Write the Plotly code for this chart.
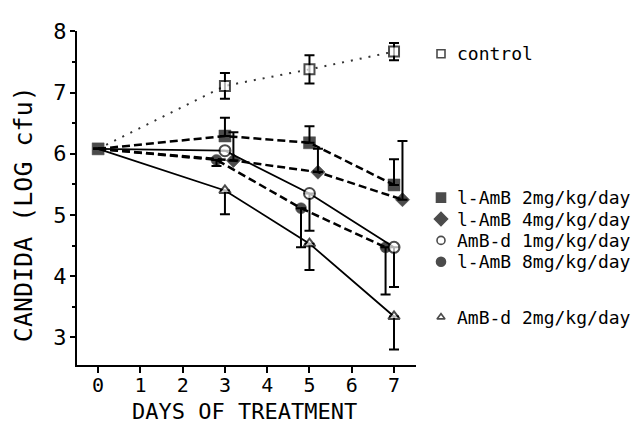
import plotly.graph_objects as go

# ---------------- data ----------------
days = [0, 3, 5, 7]
days_4mg = [0, 3.2, 5.2, 7.2]
days_8mg = [0, 2.8, 4.8, 6.8]

control = [6.08, 7.11, 7.38, 7.67]
control_err = [0, 0.21, 0.23, 0.14]

lamb2 = [6.08, 6.29, 6.18, 5.49]
lamb2_err_up = [0, 0.30, 0.27, 0.42]

lamb4 = [6.08, 5.89, 5.70, 5.25]
lamb4_err_up = [0, 0.46, 0.38, 0.96]

ambd1 = [6.08, 6.05, 5.35, 4.47]
ambd1_err_dn = [0, 0, 0.61, 0.65]

lamb8 = [6.08, 5.90, 5.11, 4.47]
lamb8_err_dn = [0, 0.10, 0.64, 0.77]

ambd2 = [6.08, 5.40, 4.53, 3.34]
ambd2_err_dn = [0, 0.39, 0.43, 0.54]

legend_labels = ["control", "l-AmB 2mg/kg/day", "l-AmB 4mg/kg/day",
                 "AmB-d 1mg/kg/day", "l-AmB 8mg/kg/day", "AmB-d 2mg/kg/day"]
x_ticks = [0, 1, 2, 3, 4, 5, 6, 7]
y_ticks = [3, 4, 5, 6, 7, 8]

# ---------------- layout constants (pixels) ----------------
W, H = 644, 426
PX0, PX1, PY0, PY1 = 77, 416, 20, 363   # plot area: left, right, top, bottom
FONT = "DejaVu Sans Mono"
legend_y_px = [43, 191, 213, 235, 257, 314]
legend_marker_x_px = 441
legend_text_x_px = 455

def sizes(xs, s, hide0=True):
    return [0 if (hide0 and x == 0) else s for x in xs]

def err(up=None, dn=None):
    n = 4
    return dict(type="data", symmetric=False,
                array=up if up is not None else [0] * n,
                arrayminus=dn if dn is not None else [0] * n,
                color="black", thickness=2, width=5)

fig = go.Figure()

DASH = "8px,4px"
BLK = dict(color="black", width=0.5)

# control (dotted)
fig.add_trace(go.Scatter(
    x=days, y=control, mode="lines+markers",
    line=dict(color="#333", width=2, dash="2px,7px"),
    marker=dict(symbol="square", size=sizes(days, 10), color="white",
                line=dict(color="black", width=2)),
    error_y=dict(type="data", symmetric=True, array=control_err,
                 color="black", thickness=2, width=5),
    showlegend=False))

# l-AmB 4mg (dashed, diamond)
fig.add_trace(go.Scatter(
    x=days_4mg, y=lamb4, mode="lines+markers",
    line=dict(color="black", width=2.5, dash=DASH),
    marker=dict(symbol="diamond", size=sizes(days_4mg, 11), color="black", line=BLK),
    error_y=err(up=lamb4_err_up),
    showlegend=False))

# l-AmB 8mg (dashed, filled circle)
fig.add_trace(go.Scatter(
    x=days_8mg, y=lamb8, mode="lines+markers",
    line=dict(color="black", width=2.5, dash=DASH),
    marker=dict(symbol="circle", size=sizes(days_8mg, 11), color="black", line=BLK),
    error_y=err(dn=lamb8_err_dn),
    showlegend=False))

# AmB-d 2mg (solid, open triangle)
fig.add_trace(go.Scatter(
    x=days, y=ambd2, mode="lines+markers",
    line=dict(color="black", width=1.8),
    marker=dict(symbol="triangle-up", size=sizes(days, 10), color="white",
                line=dict(color="black", width=2)),
    error_y=err(dn=ambd2_err_dn),
    showlegend=False))

# AmB-d 1mg (solid, open circle)
fig.add_trace(go.Scatter(
    x=days, y=ambd1, mode="lines+markers",
    line=dict(color="black", width=1.8),
    marker=dict(symbol="circle", size=sizes(days, 11), color="white",
                line=dict(color="black", width=2)),
    error_y=err(dn=ambd1_err_dn),
    showlegend=False))

# l-AmB 2mg (dashed, filled square) - drawn last so day-0 square is on top
fig.add_trace(go.Scatter(
    x=days, y=lamb2, mode="lines+markers",
    line=dict(color="black", width=2.5, dash=DASH),
    marker=dict(symbol="square", size=sizes(days, 12, hide0=False), color="black", line=BLK),
    error_y=err(up=lamb2_err_up),
    showlegend=False))

# ---------------- legend on a full-page pixel subplot ----------------
leg_symbols = ["square", "square", "diamond", "circle", "circle", "triangle-up"]
leg_fill = ["white", "black", "black", "white", "black", "white"]
leg_size = [8, 9, 10, 8, 9, 7]
fig.add_trace(go.Scatter(
    x=[legend_marker_x_px] * len(legend_labels), y=legend_y_px,
    xaxis="x2", yaxis="y2", mode="markers",
    marker=dict(symbol=leg_symbols, color=leg_fill, size=leg_size,
                line=dict(color="black", width=1.6)),
    showlegend=False, hoverinfo="skip"))

annotations = []
for lab, yy in zip(legend_labels, legend_y_px):
    annotations.append(dict(x=legend_text_x_px, y=yy, xref="x2", yref="y2",
                            text=lab, showarrow=False, xanchor="left",
                            yanchor="middle",
                            font=dict(family=FONT, size=18, color="black")))

# axis titles
annotations.append(dict(x=244, y=411, xref="x2", yref="y2",
                        text="DAYS OF TREATMENT", showarrow=False,
                        xanchor="center", yanchor="middle",
                        font=dict(family=FONT, size=22, color="black")))
annotations.append(dict(x=23, y=208, xref="x2", yref="y2",
                        text="CANDIDA (LOG cfu)", showarrow=False,
                        xanchor="center", yanchor="middle", textangle=-90,
                        font=dict(family=FONT, size=25, color="black")))

fig.update_layout(
    width=W, height=H, autosize=False,
    margin=dict(l=0, r=0, t=0, b=0, pad=0),
    paper_bgcolor="white", plot_bgcolor="rgba(0,0,0,0)",
    font=dict(family=FONT, color="black"),
    annotations=annotations,
    xaxis=dict(domain=[PX0 / W, PX1 / W], anchor="y",
               range=[-0.5, 7.52], tickvals=x_ticks,
               showline=True, linecolor="black", linewidth=2,
               ticks="outside", ticklen=6, tickwidth=2, tickcolor="black",
               showgrid=False, zeroline=False, ticklabelstandoff=-5,
               tickfont=dict(family=FONT, size=20, color="black")),
    yaxis=dict(domain=[(H - PY1) / H, (H - PY0) / H], anchor="x",
               range=[2.55, 8.0], tickvals=y_ticks,
               showline=True, linecolor="black", linewidth=2,
               ticks="outside", ticklen=5, tickwidth=2, tickcolor="black",
               minor=dict(dtick=0.5, tick0=2.5, ticks="outside", ticklen=3,
                          tickwidth=1.5, tickcolor="black", showgrid=False),
               showgrid=False, zeroline=False, ticklabelstandoff=-1,
               tickfont=dict(family=FONT, size=22, color="black")),
    xaxis2=dict(domain=[0, 1], anchor="y2", range=[0, W], visible=False,
                fixedrange=True),
    yaxis2=dict(domain=[0, 1], anchor="x2", range=[H, 0], visible=False,
                fixedrange=True),
)

fig.write_html("out.html", config={"displayModeBar": False},
               post_script="document.body.style.margin='0px';")
